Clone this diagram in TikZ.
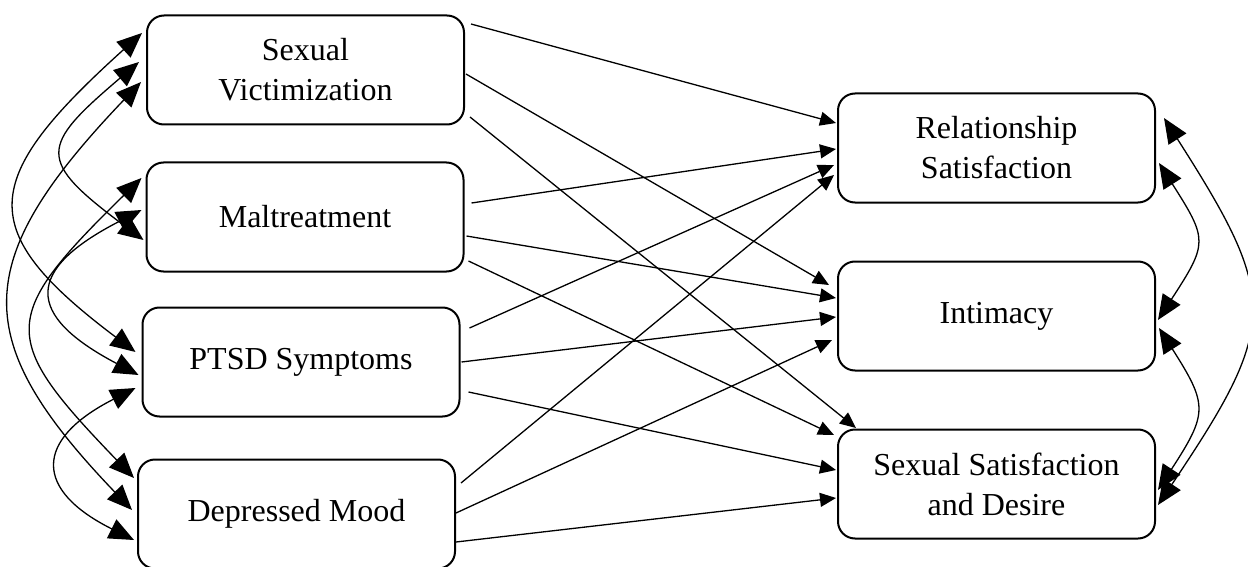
\documentclass[tikz,border=0pt]{standalone}
\usepackage{fontspec}
\setmainfont{Liberation Serif}
\usetikzlibrary{arrows.meta,calc}
\tikzset{
  box/.style={draw,line width=1pt,rounded corners=8.5pt,minimum width=158.5pt,minimum height=54.5pt,inner sep=0pt,align=center,fill=white},
  arr/.style={-{Triangle[length=8pt,width=7pt]},line width=0.65pt},
  cor/.style={{Triangle[length=12.5pt,width=10.5pt]}-{Triangle[length=12.5pt,width=10.5pt]},line width=0.65pt}
}

\begin{document}
\begin{tikzpicture}[x=0.5pt,y=-0.5pt,font=\fontsize{16}{20}\selectfont]
\useasboundingbox (0,0) rectangle (1248,567);
\node[box] (sv)  at (305.5,70)  {Sexual\\Victimization};
\node[box] (mt)  at (305,217)   {Maltreatment};
\node[box] (pt)  at (301,362)   {PTSD Symptoms};
\node[box] (dm)  at (296.5,514) {Depressed Mood};
\node[box] (rs)  at (996.5,148) {Relationship\\Satisfaction};
\node[box] (int) at (996.5,316) {Intimacy};
\node[box] (ssd) at (996.5,484) {Sexual Satisfaction\\and Desire};
\foreach \s/\a/\b/\t/\c/\d in {sv/6/-46/rs/-1/-25,sv/1/4/int/-8/-31,sv/5/47/ssd/19/-56,
  mt/7/-14/rs/-1/1,mt/2/19/int/-1/-18,mt/4/44/ssd/-3/-49,
  pt/9/-34/rs/-3/17,pt/1/0/int/-1/1,pt/8/30/ssd/-1/-14,
  dm/5/-31/rs/-3/27,dm/0/-1/int/-5/24,dm/0/28/ssd/-1/14} {
  \draw[arr] ($(\s.east)+(\a,\b)$) -- ($(\t.west)+(\c,\d)$);
}
\draw[cor] ($(sv.west)+(-4,-37)$) .. controls +(-163,147) and +(-162,-122) .. ($(pt.west)+(-6,-10)$);
\draw[cor] ($(sv.west)+(-7,-8)$) .. controls +(-100,85) and +(-107,-80) .. ($(mt.west)+(-2,23)$);
\draw[cor] ($(sv.west)+(-5,12)$) .. controls +(-172,180) and +(-163,-170) .. ($(dm.west)+(-5,-4)$);
\draw[cor] ($(mt.west)+(-4,-39)$) .. controls +(-143,140) and +(-135,-140) .. ($(dm.west)+(-3,-36)$);
\draw[cor] ($(mt.west)+(-4,-7)$) .. controls +(-117,60) and +(-114,-60) .. ($(pt.west)+(-3,13)$);
\draw[cor] ($(pt.west)+(-6,26)$) .. controls +(-102,52) and +(-100,-50) .. ($(dm.west)+(-3,26)$);
\draw[cor] ($(rs.east)+(8,-30)$) .. controls +(115,180) and +(121,-180) .. ($(ssd.east)+(2,21)$);
\draw[cor] ($(rs.east)+(3,15)$) .. controls +(49,77) and +(50,-77) .. ($(int.east)+(2,4)$);
\draw[cor] ($(int.east)+(3,12)$) .. controls +(49,77) and +(50,-77) .. ($(ssd.east)+(2,6)$);
\end{tikzpicture}
\end{document}
